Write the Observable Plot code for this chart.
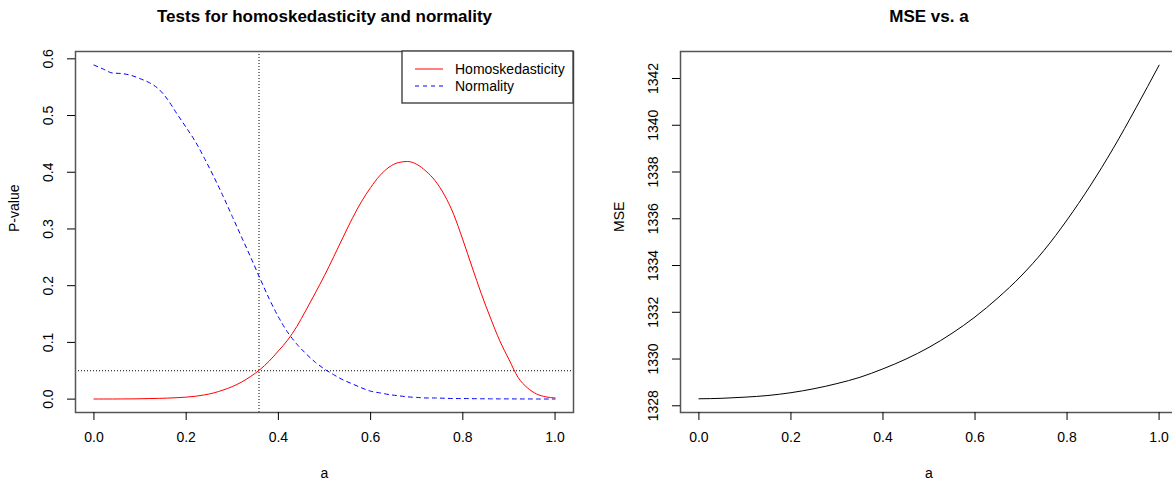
<!DOCTYPE html>
<html><head><meta charset="utf-8">
<script src="https://cdn.jsdelivr.net/npm/d3@7"></script>
<script src="https://cdn.jsdelivr.net/npm/@observablehq/plot@0.6"></script>
<style>
html,body{margin:0;padding:0;background:#fff;overflow:hidden}
#wrap{position:relative;width:1172px;height:482px;overflow:hidden;background:#fff}
#left{position:absolute;left:0;top:0;width:590px;height:482px}
#right{position:absolute;left:590px;top:0;width:600px;height:482px}
</style></head><body>
<div id="wrap"><div id="left"></div><div id="right"></div></div>
<script>
// ---- data: left panel (p-values vs a) ----
const aP = [0,0.02,0.04,0.06,0.08,0.10,0.12,0.14,0.16,0.18,0.20,0.22,0.24,0.26,0.28,0.30,0.32,0.34,0.36,0.38,0.40,0.42,0.44,0.46,0.48,0.50,0.52,0.54,0.56,0.58,0.60,0.62,0.64,0.66,0.68,0.70,0.72,0.74,0.76,0.78,0.80,0.82,0.84,0.86,0.88,0.90,0.92,0.94,0.96,0.98,1.00];
const homoskedasticity = [0.0002,0.0002,0.0002,0.0003,0.0004,0.0006,0.001,0.0013,0.0018,0.0025,0.0035,0.005,0.0075,0.011,0.016,0.022,0.030,0.040,0.052,0.067,0.085,0.104,0.128,0.157,0.187,0.218,0.251,0.285,0.318,0.348,0.373,0.394,0.409,0.417,0.419,0.414,0.402,0.385,0.360,0.326,0.281,0.233,0.186,0.143,0.103,0.070,0.038,0.020,0.009,0.004,0.002];
const normality = [0.589,0.582,0.575,0.574,0.571,0.565,0.558,0.547,0.528,0.503,0.479,0.454,0.424,0.392,0.358,0.322,0.286,0.250,0.213,0.177,0.145,0.118,0.097,0.080,0.065,0.053,0.043,0.034,0.027,0.020,0.014,0.011,0.008,0.006,0.004,0.003,0.002,0.002,0.0015,0.001,0.001,0.0008,0.0006,0.0005,0.0004,0.0004,0.0003,0.0003,0.0002,0.0002,0.0002];
const aChosen = 0.358;
const alphaLevel = 0.05;
const seriesNames = ["Homoskedasticity", "Normality"];
const seriesColors = ["#ff0000", "#0000ff"];
const seriesDash = [null, "4,4"];

// ---- data: right panel (MSE vs a) ----
const aM = [0,0.05,0.10,0.15,0.20,0.25,0.30,0.35,0.40,0.45,0.50,0.55,0.60,0.65,0.70,0.75,0.80,0.85,0.90,0.95,1.00];
const mse = [1328.30,1328.32,1328.37,1328.44,1328.56,1328.73,1328.95,1329.22,1329.58,1330.00,1330.50,1331.10,1331.80,1332.62,1333.55,1334.65,1335.95,1337.40,1339.00,1340.75,1342.57];

// ---- ticks ----
const xTicks = [0,0.2,0.4,0.6,0.8,1.0];
const pTicks = [0,0.1,0.2,0.3,0.4,0.5,0.6];
const mseTicks = [1328,1330,1332,1334,1336,1338,1340,1342];

const FONT = "'Liberation Sans', Arial, Helvetica, sans-serif";
const baseStyle = {fontFamily: FONT, fontSize: "14px", color: "black", background: "white", maxWidth: "none"};

const homData = aP.map((a,i) => ({a, p: homoskedasticity[i]}));
const normData = aP.map((a,i) => ({a, p: normality[i]}));
const mseData = aM.map((a,i) => ({a, mse: mse[i]}));

function legendMark(index, scales, values, dims) {
  const right = dims.width - dims.marginRight, top = dims.marginTop;
  const g = d3.create("svg:g").attr("font-size", 14).attr("text-anchor", "start");
  g.append("rect").attr("x", right - 171).attr("y", top).attr("width", 171).attr("height", 52)
    .attr("fill", "white").attr("stroke", "#333").attr("stroke-width", 1.3);
  seriesNames.forEach((name, i) => {
    const y = top + 18 + i * 17;
    const ln = g.append("line").attr("x1", right - 158).attr("x2", right - 130)
      .attr("y1", y).attr("y2", y).attr("stroke", seriesColors[i]).attr("stroke-width", 1);
    if (seriesDash[i]) ln.attr("stroke-dasharray", seriesDash[i]);
    g.append("text").attr("x", right - 118).attr("y", y).attr("dy", "0.35em")
      .attr("text-anchor", "start").attr("fill", "black").text(name);
  });
  return g.node();
}

const frameStyle = {stroke: "#555", strokeWidth: 1.5};

const left = Plot.plot({
  width: 590, height: 482,
  marginLeft: 75, marginRight: 17, marginTop: 51, marginBottom: 70,
  style: baseStyle,
  x: {domain: [-0.04, 1.04]},
  y: {domain: [-0.0236, 0.6129]},
  marks: [
    Plot.ruleX([aChosen], {stroke: "black", strokeWidth: 1, strokeDasharray: "1,2"}),
    Plot.ruleY([alphaLevel], {stroke: "black", strokeWidth: 1, strokeDasharray: "1,2"}),
    Plot.line(normData, {x: "a", y: "p", stroke: seriesColors[1], strokeWidth: 1, strokeDasharray: seriesDash[1], curve: "monotone-x"}),
    Plot.line(homData, {x: "a", y: "p", stroke: seriesColors[0], strokeWidth: 1, curve: "monotone-x"}),
    Plot.frame(frameStyle),
    Plot.axisX({ticks: xTicks, tickSize: 8, tickPadding: 12, tickFormat: d3.format(".1f"), label: null}),
    Plot.axisY({ticks: pTicks, tickSize: 8, tickRotate: -90, tickPadding: 15, tickFormat: d3.format(".1f"), label: null}),
    Plot.text(["a"], {frameAnchor: "bottom", dy: 61, lineAnchor: "middle", text: d => d}),
    Plot.text(["P-value"], {frameAnchor: "left", dx: -61, rotate: -90, lineAnchor: "middle", text: d => d}),
    Plot.text(["Tests for homoskedasticity and normality"], {frameAnchor: "top", dy: -35, lineAnchor: "middle", fontWeight: "bold", fontSize: 17, text: d => d}),
    legendMark
  ]
});
document.getElementById("left").append(left);

const right = Plot.plot({
  width: 600, height: 482,
  marginLeft: 90, marginRight: 13, marginTop: 51, marginBottom: 70,
  style: baseStyle,
  x: {domain: [-0.04, 1.04]},
  y: {domain: [1327.713, 1343.155]},
  marks: [
    Plot.line(mseData, {x: "a", y: "mse", stroke: "black", strokeWidth: 1, curve: "monotone-x"}),
    Plot.frame(frameStyle),
    Plot.axisX({ticks: xTicks, tickSize: 8, tickPadding: 12, tickFormat: d3.format(".1f"), label: null}),
    Plot.axisY({ticks: mseTicks, tickSize: 8, tickRotate: -90, tickPadding: 15, tickFormat: d => String(d), label: null}),
    Plot.text(["a"], {frameAnchor: "bottom", dy: 61, lineAnchor: "middle", text: d => d}),
    Plot.text(["MSE"], {frameAnchor: "left", dx: -61, rotate: -90, lineAnchor: "middle", text: d => d}),
    Plot.text(["MSE vs. a"], {frameAnchor: "top", dy: -35, lineAnchor: "middle", fontWeight: "bold", fontSize: 17, text: d => d})
  ]
});
document.getElementById("right").append(right);
</script>
</body></html>
